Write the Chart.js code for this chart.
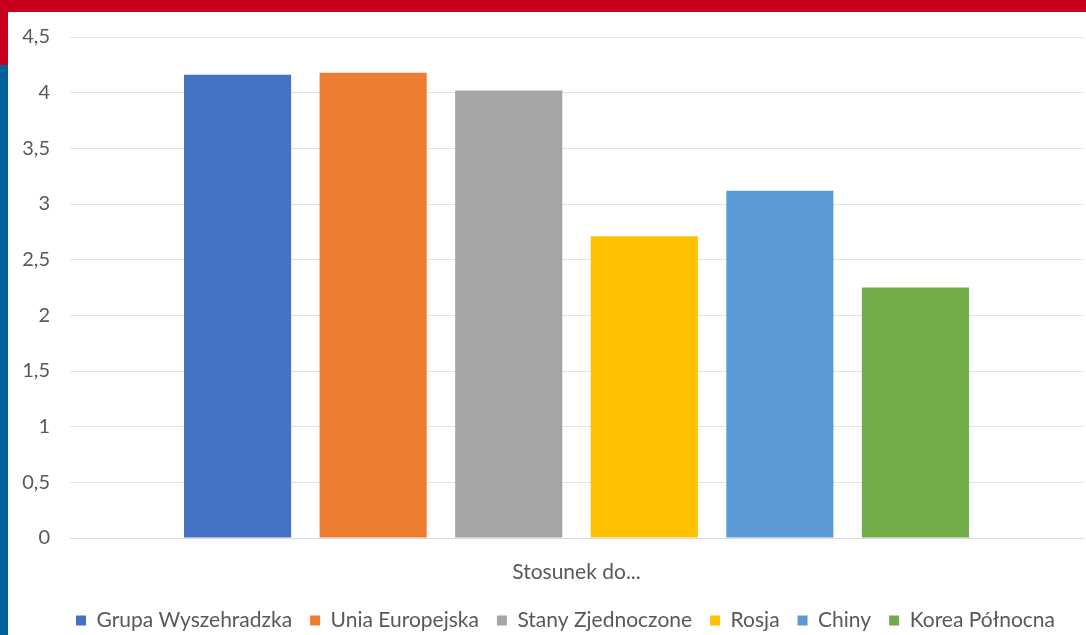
<!DOCTYPE html>
<html>
<head>
<meta charset="utf-8">
<script src="https://cdn.jsdelivr.net/npm/chart.js@4"></script>
<style>
  html, body { margin: 0; padding: 0; background: #fff; }
  body { width: 1086px; height: 635px; position: relative; overflow: hidden; }
  #topbar { position: absolute; left: 0; top: 0; width: 1086px; height: 12px; background: #c8001e; }
  #redside { position: absolute; left: 0; top: 0; width: 8px; height: 65px; background: #c8001e; }
  #blueside { position: absolute; left: 0; top: 65px; width: 8px; height: 570px; background: #00629b; }
  #wrap { position: absolute; left: 8px; top: 12px; width: 1078px; height: 623px; }
</style>
</head>
<body>
<div id="topbar"></div>
<div id="redside"></div>
<div id="blueside"></div>
<div id="wrap"><canvas id="chart"></canvas></div>
<script>
var categories = ['Stosunek do...'];
var seriesNames = ['Grupa Wyszehradzka', 'Unia Europejska', 'Stany Zjednoczone', 'Rosja', 'Chiny', 'Korea Północna'];
var seriesValues = [4.16, 4.18, 4.02, 2.71, 3.12, 2.25];
var seriesColors = ['#4472c4', '#ed7d31', '#a5a5a5', '#ffc000', '#5b9bd5', '#70ad47'];

var textColor = '#595959';
var fontFamily = 'Lato, "Open Sans", sans-serif';

var datasets = seriesNames.map(function(name, i) {
    return {
        label: name,
        data: [seriesValues[i]],
        backgroundColor: seriesColors[i],
        borderWidth: 0,
        categoryPercentage: 0.803,
        barPercentage: 0.79
    };
});

// legend keeps wide gaps between items but a short box, nudged right
var legendTweak = {
    id: 'legendTweak',
    beforeLayout: function(chart) {
        var lg = chart.legend;
        if (lg && !lg._fixed) {
            var fit = lg.fit;
            var draw = lg.draw;
            lg.fit = function() {
                fit.call(this);
                this.height = 43;
            };
            lg.draw = function() {
                this.ctx.save();
                this.ctx.translate(20, 0);
                draw.apply(this, arguments);
                this.ctx.restore();
            };
            lg._fixed = true;
        }
    }
};

window.onload = function() {
    var ctx = document.getElementById('chart').getContext('2d');
    window.myBar = new Chart(ctx, {
        type: 'bar',
        data: {
            labels: categories,
            datasets: datasets
        },
        plugins: [legendTweak],
        options: {
            responsive: true,
            maintainAspectRatio: false,
            animation: false,
            layout: {
                padding: { top: 25, right: 3, bottom: 0, left: 0 }
            },
            plugins: {
                legend: {
                    position: 'bottom',
                    labels: {
                        boxWidth: 10,
                        boxHeight: 10,
                        padding: 18,
                        color: textColor,
                        font: { family: fontFamily, size: 21 }
                    }
                },
                tooltip: { enabled: false }
            },
            scales: {
                x: {
                    afterFit: function(scale) {
                        scale.height = 54;
                        scale.paddingLeft = 0;
                        scale.paddingRight = 0;
                    },
                    grid: { display: false, drawTicks: false },
                    border: { display: true, color: '#dcdcdc' },
                    ticks: {
                        color: textColor,
                        padding: 22,
                        font: { family: fontFamily, size: 21 }
                    }
                },
                y: {
                    min: 0,
                    max: 4.5,
                    afterFit: function(scale) {
                        scale.width = 62;
                        scale.paddingTop = 0;
                        scale.paddingBottom = 0;
                    },
                    grid: { color: '#e2e2e2', drawTicks: false },
                    border: { display: false },
                    ticks: {
                        stepSize: 0.5,
                        color: textColor,
                        padding: 20,
                        font: { family: fontFamily, size: 20 },
                        callback: function(v) { return String(v).replace('.', ','); }
                    }
                }
            }
        }
    });
};
</script>
</body>
</html>
